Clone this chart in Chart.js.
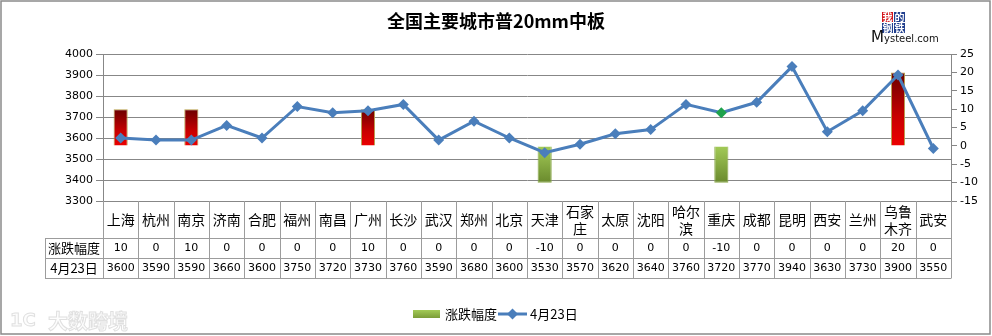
<!DOCTYPE html>
<html>
<head>
<meta charset="utf-8">
<script src="https://cdn.jsdelivr.net/npm/chart.js@4/dist/chart.umd.min.js"></script>
<style>
  body { margin: 0; background: #fff; }
  canvas { display: block; }
</style>
</head>
<body>
<canvas id="steelChart" width="992" height="336"></canvas>
<script>
const cities = ["上海", "杭州", "南京", "济南", "合肥", "福州", "南昌", "广州", "长沙", "武汉", "郑州", "北京",
  "天津", "石家庄", "太原", "沈阳", "哈尔滨", "重庆", "成都", "昆明", "西安", "兰州", "乌鲁木齐", "武安"];
const changes = [10, 0, 10, 0, 0, 0, 0, 10, 0, 0, 0, 0, -10, 0, 0, 0, 0, -10, 0, 0, 0, 0, 20, 0];
const prices = [3600, 3590, 3590, 3660, 3600, 3750, 3720, 3730, 3760, 3590, 3680, 3600,
  3530, 3570, 3620, 3640, 3760, 3720, 3770, 3940, 3630, 3730, 3900, 3550];
const changeLabel = "涨跌幅度";
const priceLabel = "4月23日";
const titleText = "全国主要城市普20mm中板";

const BLUE = "#4a7ebb";
const GRID = "#878787";
const CELL = "#9c9c9c";
const cjk = '"Noto Sans CJK SC", sans-serif';
const num = '"DejaVu Sans", sans-serif';

function barFill(c) {
  const v = c.raw;
  const { chartArea, scales, ctx } = c.chart;
  if (!chartArea) return v >= 0 ? "#c00000" : "#8db04a";
  const y0 = scales.y1.getPixelForValue(0);
  const yv = scales.y1.getPixelForValue(v);
  const g = ctx.createLinearGradient(0, Math.min(y0, yv), 0, Math.max(y0, yv) + 0.01);
  if (v >= 0) {
    g.addColorStop(0, "#6a0000");
    g.addColorStop(0.6, "#c80000");
    g.addColorStop(1, "#ec0000");
  } else {
    g.addColorStop(0, "#a3cb57");
    g.addColorStop(1, "#6a8a2d");
  }
  return g;
}

function splitName(name) {
  return name.length > 2 ? [name.slice(0, 2), name.slice(2)] : [name];
}

const pagePlugin = {
  id: "page",
  beforeDraw(chart) {
    const { ctx, width, height } = chart;
    ctx.save();
    ctx.fillStyle = "#fff";
    ctx.fillRect(0, 0, width, height);
    ctx.restore();
  },
  afterDraw(chart) {
    const { ctx, chartArea: { left, right, bottom }, scales: { x } } = chart;
    ctx.save();

    // frame
    ctx.strokeStyle = "#8a8a8a";
    ctx.lineWidth = 1.5;
    ctx.strokeRect(1, 1, 989, 333);

    // title
    ctx.fillStyle = "#000";
    ctx.font = "bold 18px " + cjk;
    ctx.textAlign = "center";
    ctx.textBaseline = "middle";
    ctx.fillText(titleText, 496, 21);

    // logo
    const boxes = [["我", 882, 12, "#d3151b"], ["的", 894, 12, "#213f8e"], ["钢", 882, 23, "#213f8e"], ["铁", 894, 23, "#213f8e"]];
    ctx.font = "bold 10px " + cjk;
    for (const [ch, bx, by, col] of boxes) {
      ctx.fillStyle = col;
      ctx.fillRect(bx, by, 11, 10);
      ctx.fillStyle = "#fff";
      ctx.fillText(ch, bx + 5.5, by + 5.5);
    }
    ctx.fillStyle = "#111";
    ctx.textAlign = "left";
    ctx.textBaseline = "alphabetic";
    ctx.font = "15px " + num;
    ctx.fillText("M", 871, 42);
    ctx.font = "10px " + num;
    ctx.fillText("ysteel.com", 884, 42);

    // data table under the plot
    const n = cities.length;
    const w = (right - left) / n;
    const r1 = bottom + 37, r2 = bottom + 57, r3 = bottom + 77;
    const headLeft = 45;
    ctx.strokeStyle = CELL;
    ctx.lineWidth = 1;
    ctx.beginPath();
    for (const ry of [r1, r2, r3]) {
      ctx.moveTo(headLeft, Math.round(ry) + 0.5);
      ctx.lineTo(right, Math.round(ry) + 0.5);
    }
    for (let i = 0; i <= n; i++) {
      const vx = Math.round(left + i * w) + 0.5;
      ctx.moveTo(vx, bottom);
      ctx.lineTo(vx, r3 + 0.5);
    }
    ctx.moveTo(headLeft + 0.5, r1);
    ctx.lineTo(headLeft + 0.5, r3 + 0.5);
    ctx.stroke();

    ctx.fillStyle = "#000";
    ctx.textAlign = "center";
    ctx.textBaseline = "middle";
    cities.forEach((name, i) => {
      const cx = x.getPixelForValue(i);
      const lines = splitName(name);
      ctx.font = "14px " + cjk;
      if (lines.length === 1) {
        ctx.fillText(lines[0], cx, bottom + 19);
      } else {
        ctx.fillText(lines[0], cx, bottom + 11);
        ctx.fillText(lines[1], cx, bottom + 28);
      }
      ctx.font = "11px " + num;
      ctx.fillText(String(changes[i]), cx, r1 + 10.5);
      ctx.fillText(String(prices[i]), cx, r2 + 10.5);
    });
    ctx.font = "13px " + cjk;
    ctx.fillText(changeLabel, (headLeft + left) / 2, r1 + 10.5);
    ctx.fillText(priceLabel, (headLeft + left) / 2, r2 + 10.5);

    // legend
    const ly = 314;
    const sw = ctx.createLinearGradient(0, ly - 4, 0, ly + 4);
    sw.addColorStop(0, "#a3cb57");
    sw.addColorStop(1, "#7b9c38");
    ctx.fillStyle = sw;
    ctx.fillRect(413, ly - 4, 27, 8);
    ctx.fillStyle = "#000";
    ctx.textAlign = "left";
    ctx.font = "13px " + cjk;
    ctx.fillText(changeLabel, 445, ly);
    ctx.strokeStyle = BLUE;
    ctx.lineWidth = 3;
    ctx.beginPath();
    ctx.moveTo(498, ly);
    ctx.lineTo(527, ly);
    ctx.stroke();
    ctx.fillStyle = BLUE;
    ctx.beginPath();
    ctx.moveTo(512.5, ly - 5.5);
    ctx.lineTo(518, ly);
    ctx.lineTo(512.5, ly + 5.5);
    ctx.lineTo(507, ly);
    ctx.closePath();
    ctx.fill();
    ctx.fillStyle = "#000";
    ctx.fillText(priceLabel, 530, ly);

    // faint watermark
    ctx.font = "bold 20px " + cjk;
    ctx.fillStyle = "#fdfdfd";
    ctx.strokeStyle = "#e0e0e0";
    ctx.lineWidth = 1;
    ctx.fillText("大数跨境", 48, 321);
    ctx.strokeText("大数跨境", 48, 321);
    ctx.font = "bold 18px " + num;
    ctx.fillText("1C", 10, 321);
    ctx.strokeText("1C", 10, 321);
    ctx.restore();
  }
};

new Chart(document.getElementById("steelChart"), {
  data: {
    labels: cities,
    datasets: [
      {
        type: "line",
        label: priceLabel,
        data: prices,
        yAxisID: "y",
        borderColor: BLUE,
        borderWidth: 3,
        tension: 0,
        pointStyle: "rectRot",
        pointRadius: 5.5,
        pointBorderWidth: 0,
        pointBackgroundColor: cities.map(c => (c === "重庆" ? "#1ea24c" : BLUE)),
        order: 1
      },
      {
        type: "bar",
        label: changeLabel,
        data: changes,
        yAxisID: "y1",
        backgroundColor: barFill,
        borderColor: c => (c.raw >= 0 ? "#b8a04c" : "#8aa84a"),
        borderWidth: c => (c.raw === 0 ? 0 : 1),
        barPercentage: 0.4,
        categoryPercentage: 1,
        order: 2
      }
    ]
  },
  options: {
    responsive: false,
    animation: false,
    layout: { padding: { top: 54, bottom: 135, left: 0, right: 0 } },
    plugins: { legend: { display: false }, tooltip: { enabled: false } },
    scales: {
      x: { display: false, offset: true },
      y: {
        position: "left",
        min: 3300,
        max: 4000,
        ticks: { stepSize: 100, color: "#000", font: { family: num, size: 11 }, padding: 3, callback: v => String(v) },
        grid: { color: GRID, tickLength: 7 },
        border: { color: GRID },
        afterFit(s) { s.width = 103; }
      },
      y1: {
        position: "right",
        min: -15,
        max: 25,
        ticks: { stepSize: 5, color: "#000", font: { family: num, size: 11 }, padding: 3, callback: v => String(v) },
        grid: { drawOnChartArea: false, color: GRID, tickLength: 6 },
        border: { color: GRID },
        afterFit(s) { s.width = 41; }
      }
    }
  },
  plugins: [pagePlugin]
});
</script>
</body>
</html>
